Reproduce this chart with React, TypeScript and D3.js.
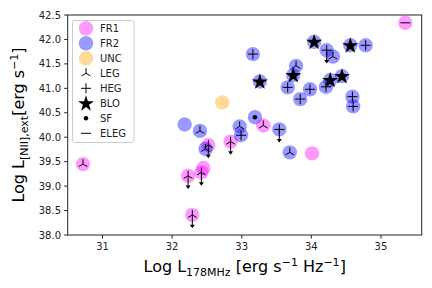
import React from "react";
import * as d3 from "d3";

// Data
const logL178 = [30.72, 35.35, 32.18, 32.40, 32.52, 32.48, 32.45, 32.42, 32.23, 32.29, 32.84, 32.97, 32.99, 32.72, 33.19, 33.31, 33.54, 33.69, 34.01, 33.16, 33.26, 33.66, 33.78, 33.74, 33.84, 33.98, 34.04, 34.22, 34.31, 34.21, 34.27, 34.44, 34.56, 34.78, 34.59, 34.60];
const logLNII = [39.45, 42.34, 40.26, 40.13, 39.84, 39.76, 39.37, 39.28, 39.21, 38.41, 39.91, 40.22, 40.04, 40.71, 40.41, 40.24, 40.16, 39.69, 39.67, 41.70, 41.14, 41.02, 41.46, 41.27, 40.78, 40.98, 41.95, 41.78, 41.65, 41.03, 41.17, 41.25, 41.88, 41.88, 40.83, 40.63];
const morph = ["FR1", "FR1", "FR2", "FR2", "FR1", "FR2", "FR1", "FR1", "FR1", "FR1", "FR1", "FR2", "FR2", "UNC", "FR2", "FR1", "FR2", "FR2", "FR1", "FR2", "FR2", "FR2", "FR2", "FR2", "FR2", "FR2", "FR2", "FR2", "FR2", "FR2", "FR2", "FR2", "FR2", "FR2", "FR2", "FR2"];
const excitation = ["LEG", "ELEG", "", "LEG", "LEG", "LEG", "", "LEG", "LEG", "LEG", "LEG", "LEG", "HEG", "", "SF", "LEG", "HEG", "LEG", "", "HEG", "BLO", "HEG", "LEG", "BLO", "HEG", "HEG", "BLO", "HEG", "LEG", "HEG", "BLO", "BLO", "BLO", "HEG", "HEG", "HEG"];
const upperLimit = [false, false, false, false, true, false, false, true, true, true, true, false, false, false, false, false, true, false, false, false, false, false, false, false, false, false, false, true, false, false, false, false, false, false, false, false];

const xTicks = [31, 32, 33, 34, 35];
const yTicks = [38.0, 38.5, 39.0, 39.5, 40.0, 40.5, 41.0, 41.5, 42.0, 42.5];
const morphClasses = ["FR1", "FR2", "UNC"];
const excClasses = ["LEG", "HEG", "BLO", "SF", "ELEG"];

const colors: Record<string, string> = { FR1: "#ff00ff", FR2: "#0000ff", UNC: "#ffa500" };

const W = 432, H = 288;
const x = d3.scaleLinear().domain([30.5, 35.585]).range([67.7, 421.7]);
const y = d3.scaleLinear().domain([38, 42.5]).range([235, 15]);

function Marker({ type, cx, cy }: { type: string; cx: number; cy: number }) {
  const s = 5;
  if (type === "LEG") {
    const a = s * Math.cos(Math.PI / 6), b = s * Math.sin(Math.PI / 6);
    return (
      <g stroke="#000" strokeWidth={1}>
        <line x1={cx} y1={cy} x2={cx} y2={cy - s} />
        <line x1={cx} y1={cy} x2={cx - a} y2={cy + b} />
        <line x1={cx} y1={cy} x2={cx + a} y2={cy + b} />
      </g>
    );
  }
  if (type === "HEG") {
    return (
      <g stroke="#000" strokeWidth={1}>
        <line x1={cx - s} y1={cy} x2={cx + s} y2={cy} />
        <line x1={cx} y1={cy - s} x2={cx} y2={cy + s} />
      </g>
    );
  }
  if (type === "BLO") {
    const p = d3.symbol().type(d3.symbolStar).size(80)();
    return <path d={p || ""} transform={`translate(${cx},${cy + 0.5})`} fill="#000" />;
  }
  if (type === "SF") {
    return <circle cx={cx} cy={cy} r={2.3} fill="#000" />;
  }
  if (type === "ELEG") {
    return <line x1={cx - s} y1={cy} x2={cx + s} y2={cy} stroke="#000" strokeWidth={1} />;
  }
  return null;
}

export default function App() {
  const idx = d3.range(logL178.length);
  const font = "DejaVu Sans, sans-serif";
  const legendRows = [...morphClasses, ...excClasses];
  return (
    <div style={{ position: "absolute", left: 0, top: 0 }}>
      <svg width={W} height={H} style={{ display: "block", background: "#fff" }} fontFamily={font}>
        {idx.map((i) => (
          <circle key={"c" + i} cx={x(logL178[i])} cy={y(logLNII[i])} r={7.2}
            fill={colors[morph[i]]} fillOpacity={0.4} />
        ))}
        {idx.filter((i) => upperLimit[i]).map((i) => {
          const cx = x(logL178[i]), cy = y(logLNII[i]);
          const yb = y(logLNII[i] - 0.25);
          return (
            <g key={"u" + i}>
              <line x1={cx} y1={cy} x2={cx} y2={yb} stroke="#000" strokeWidth={1} />
              <path d={`M${cx - 2.5},${yb - 2.5} L${cx + 2.5},${yb - 2.5} L${cx},${yb + 1} Z`} fill="#000" />
            </g>
          );
        })}
        {idx.map((i) => (
          <Marker key={"m" + i} type={excitation[i]} cx={x(logL178[i])} cy={y(logLNII[i])} />
        ))}
        <rect x={67.7} y={15} width={354} height={220} fill="none" stroke="#222" strokeWidth={1} />
        {xTicks.map((t) => (
          <g key={"xt" + t}>
            <line x1={x(t)} x2={x(t)} y1={235} y2={238.5} stroke="#222" />
            <text x={x(t)} y={250} fontSize={10} textAnchor="middle" fill="#222">{t}</text>
          </g>
        ))}
        {yTicks.map((t) => (
          <g key={"yt" + t}>
            <line x1={64.2} x2={67.7} y1={y(t)} y2={y(t)} stroke="#222" />
            <text x={61} y={y(t) + 3.5} fontSize={10} textAnchor="end" fill="#222">{t.toFixed(1)}</text>
          </g>
        ))}
        <text x={244.7} y={272} fontSize={16} textAnchor="middle" fill="#000">
          <tspan>Log L</tspan>
          <tspan fontSize={11} dy={4}>178MHz</tspan>
          <tspan dy={-4}> [erg s</tspan>
          <tspan fontSize={11} dy={-6}>−1</tspan>
          <tspan dy={6}> Hz</tspan>
          <tspan fontSize={11} dy={-6}>−1</tspan>
          <tspan dy={6}>]</tspan>
        </text>
        <text transform={`translate(24,125) rotate(-90)`} fontSize={16} textAnchor="middle" fill="#000">
          <tspan>Log L</tspan>
          <tspan fontSize={11} dy={4}>[NII],ext</tspan>
          <tspan dy={-4}>[erg s</tspan>
          <tspan fontSize={11} dy={-6}>−1</tspan>
          <tspan dy={6}>]</tspan>
        </text>
        <rect x={72.5} y={20.5} width={61.5} height={122} rx={2.5} fill="#fff" fillOpacity={0.8} stroke="#ccc" />
        {legendRows.map((name, k) => {
          const ly = 28.3 + k * 15;
          return (
            <g key={"lg" + name}>
              {k < 3 ? (
                <circle cx={86} cy={ly} r={7.2} fill={colors[name]} fillOpacity={0.4} />
              ) : (
                <Marker type={name} cx={86} cy={ly} />
              )}
              <text x={100} y={ly + 3.6} fontSize={10} fill="#222">{name}</text>
            </g>
          );
        })}
      </svg>
    </div>
  );
}
